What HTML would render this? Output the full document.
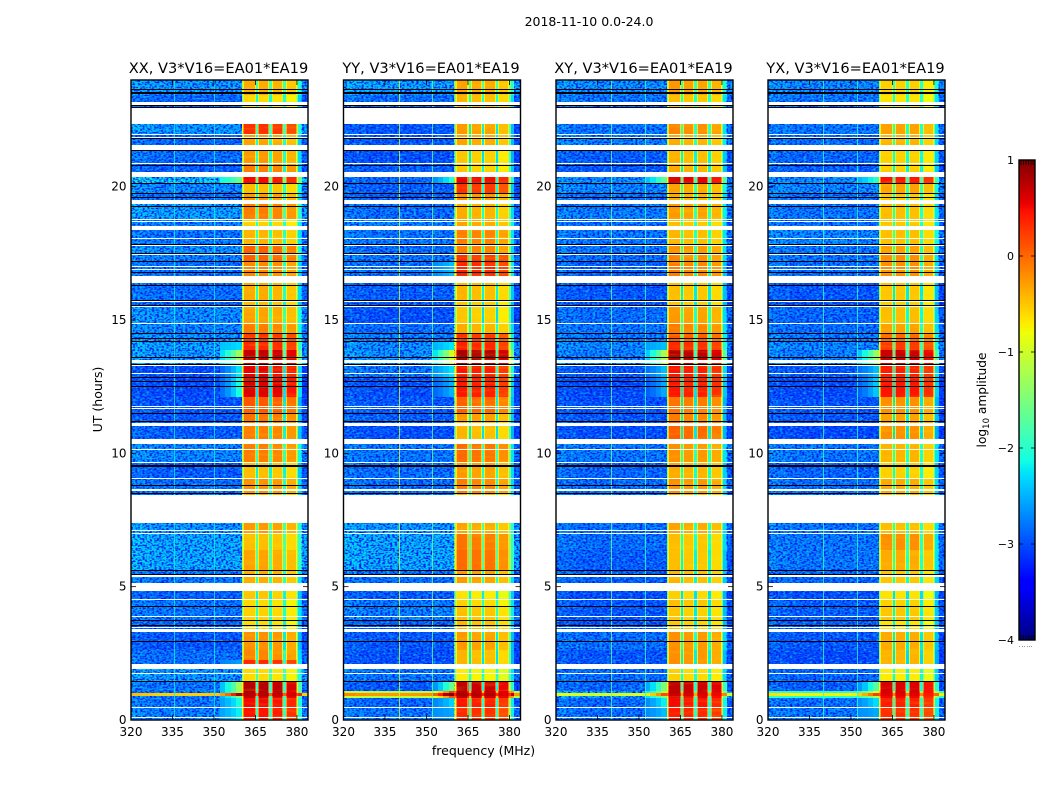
<!DOCTYPE html>
<html lang="en">
<head>
<meta charset="utf-8">
<title>2018-11-10 0.0-24.0</title>
<style>
html,body{margin:0;padding:0;background:#fff;}
svg{display:block;}
text{font-family:"DejaVu Sans","Liberation Sans",sans-serif;fill:#000;}
</style>
</head>
<body>
<svg id="figure" xmlns="http://www.w3.org/2000/svg" width="1050" height="800" viewBox="0 0 1050 800">
  <defs>
    <filter id="speckleDark" x="0" y="0" width="100%" height="100%" color-interpolation-filters="sRGB">
      <feTurbulence type="fractalNoise" baseFrequency="0.42 0.62" numOctaves="1" seed="4"/>
      <feColorMatrix type="matrix" values="0 0 0 0 0  0 0 0 0 0.1  0 0 0 0 0.95  5 0 0 0 -2.2"/>
    </filter>
    <filter id="speckleLight" x="0" y="0" width="100%" height="100%" color-interpolation-filters="sRGB">
      <feTurbulence type="fractalNoise" baseFrequency="0.3 0.55" numOctaves="1" seed="11"/>
      <feColorMatrix type="matrix" values="0 0 0 0 0.05  0 0 0 0 0.85  0 0 0 0 0.95  0 4 0 0 -2"/>
    </filter>
    <filter id="streakGlow" x="0" y="0" width="100%" height="100%" color-interpolation-filters="sRGB">
      <feTurbulence type="fractalNoise" baseFrequency="0.03 0.3" numOctaves="2" seed="7"/>
      <feColorMatrix type="matrix" values="0 0 0 0 1  0 0 0 0 0.95  0 0 0 0 0.1  3.5 0 0 0 -1.75"/>
    </filter>
  </defs>
  <text x="589" y="26" font-size="12.5" text-anchor="middle">2018-11-10 0.0-24.0</text>
  <text transform="translate(102,399.5) rotate(-90)" font-size="12.5" text-anchor="middle">UT (hours)</text>
  <text x="483.5" y="755" font-size="12.5" text-anchor="middle">frequency (MHz)</text>
  <text transform="translate(986,400) rotate(-90)" font-size="12.2" text-anchor="middle">log<tspan font-size="8.5" dy="3">10</tspan><tspan dy="-3"> amplitude</tspan></text>
</svg>
<script>
// ---- Chart data ----
const panelNames = ["XX", "YY", "XY", "YX"];
const baselineLabel = "V3*V16=EA01*EA19";
const xTicks = [320, 335, 350, 365, 380];
const yTicks = [0, 5, 10, 15, 20];
const colorbarTicks = [1, 0, -1, -2, -3, -4];

// Time bands: edges in UT hours, from top of the plot to the bottom.
const bandEdges = [24,23.44,22.35,21.98,21.34,20.89,20.36,20.14,19.76,19.35,18.79,18.38,17.81,17.48,17.21,16.39,15.75,15.53,14.89,14.51,14.18,13.88,13.31,12.83,12.11,11.51,11.18,10.35,9.68,9.08,8.48,7.39,7.01,6.38,5.59,4.84,4.54,4.24,3.75,3.3,2.63,2.25,1.91,1.46,1.09,1.01,0.9,0.83,0.49,0];

// Frequency channels: edges in MHz.
const freqEdges = [320,324,328,332,336,340,344,348,352,354,356,358,360,360.6,361,364.8,365.2,366,366.4,369.6,370,370.9,371.3,374.7,375.1,375.9,376.3,379.5,379.9,380.4,381.8,384];
const chanWeight = [0,0,0,0,0,0,0,0,0,0,0,0,0.55,0.8,1,0.8,0.05,0.8,1,0.8,0.05,0.8,1,0.8,0.05,0.8,1,0.8,0.45,0,0];
const chanOffset = [-0.05,-0.1,-0.15,-0.15,-0.15,-0.15,-0.15,-0.15,-0.15,-0.15,-0.15,-0.15,0,0,0,0,0.4,0,0,0,0.4,0,0,0,0.4,0,0,0,0,0.3,-0.15];
const chanRamp = [0,0,0,0,0,0,0,0.1,0.6,1.2,2,3,0,0,0,0,0,0,0,0,0,0,0,0,0,0,0,0,0,1,0];
const chanBlock = [-1,-1,-1,-1,-1,-1,-1,-1,-1,-1,-1,-1,-1,0,0,0,-1,1,1,1,-1,2,2,2,-1,3,3,3,-1,-1,-1];

// log10 amplitude in each time band: background level and 360-380 MHz level.
const bgXX = [-2.35,-2.65,-2.35,-2.65,-2.6,-2.7,-2.1,-2.45,-2.6,-2.3,-2.5,-2.55,-2.4,-2.5,-2.6,-2.6,-2.7,-2.4,-2.45,-2.4,-2.3,-2.35,-2.85,-2.85,-2.8,-2.75,-2.7,-2.45,-2.7,-2.6,-2.6,-2.35,-2.25,-2.25,-2.55,-2.7,-2.55,-2.55,-2.7,-2.75,-2.6,-2.6,-2.35,-2.55,-2.55,-0.4,-2.55,-2.55,-2.5];
const pkXX = [-0.4,-0.65,0.25,-0.35,-0.3,-0.15,0.45,-0.5,-0.3,-0.15,-0.6,-0.45,0,0,-0.2,-0.4,-0.5,-0.35,-0.15,0.25,0.3,0.65,0.5,0.55,0.05,-0.1,-0.15,-0.15,-0.5,-0.25,-0.4,-0.3,-0.5,-0.35,-0.4,-0.55,-0.65,-0.6,-0.65,-0.25,-0.2,0.3,-0.65,0.72,0.72,0.72,0.65,0.45,0.4];
const bgYY = [-2.3,-2.6,-2.75,-2.75,-2.8,-2.7,-2.65,-2.7,-2.7,-2.6,-2.5,-2.55,-2.6,-2.55,-2.6,-2.7,-2.75,-2.8,-2.6,-2.5,-2.4,-2.4,-2.55,-2.8,-2.75,-2.7,-2.8,-2.55,-2.6,-2.6,-2.6,-2.35,-2.25,-2.25,-2.6,-2.7,-2.55,-2.5,-2.7,-2.75,-2.8,-2.8,-2.55,-2.75,-1,-0.1,-1,-2.65,-2.55];
const pkYY = [-0.35,-0.45,-0.3,-0.35,-0.55,-0.55,0.5,0.25,-0.25,-0.4,-0.35,-0.15,-0.15,0.25,0.35,-0.45,-0.55,-0.55,-0.4,0.25,0.35,0.78,0.4,0.4,0,-0.3,-0.45,-0.05,-0.3,-0.15,-0.4,-0.35,-0.1,-0.05,-0.3,-0.7,-0.6,-0.5,-0.45,-0.3,-0.45,-0.45,-0.75,0.68,0.72,0.78,0.68,0.4,0.3];
const bgXY = [-2.4,-2.55,-2.55,-2.5,-2.7,-2.75,-2.45,-2.45,-2.6,-2.5,-2.6,-2.55,-2.55,-2.6,-2.7,-2.75,-2.75,-2.6,-2.55,-2.5,-2.45,-2.5,-2.75,-2.85,-2.8,-2.75,-2.8,-2.55,-2.65,-2.6,-2.6,-2.6,-2.6,-2.7,-2.7,-2.8,-2.75,-2.75,-2.75,-2.6,-2.75,-2.75,-2.6,-2.65,-2.3,-0.8,-2.3,-2.65,-2.6];
const pkXY = [-0.3,-0.5,-0.2,-0.4,-0.45,-0.4,0.55,-0.35,-0.4,-0.3,-0.5,-0.45,-0.25,-0.2,-0.15,-0.5,-0.55,-0.3,-0.15,0.05,0.3,0.72,0.4,0.4,-0.1,-0.15,0,-0.25,-0.4,-0.25,-0.4,-0.35,-0.5,-0.5,-0.45,-0.6,-0.5,-0.55,-0.55,-0.25,-0.25,-0.25,-0.6,0.68,0.68,0.62,0.58,0.45,0.35];
const bgYX = [-2.45,-2.55,-2.55,-2.6,-2.65,-2.7,-2.45,-2.45,-2.6,-2.55,-2.6,-2.45,-2.55,-2.55,-2.6,-2.75,-2.8,-2.65,-2.6,-2.5,-2.45,-2.5,-2.75,-2.85,-2.8,-2.75,-2.85,-2.55,-2.65,-2.6,-2.6,-2.55,-2.55,-2.55,-2.65,-2.8,-2.7,-2.7,-2.7,-2.75,-2.85,-2.85,-2.65,-2.7,-1.9,-0.6,-1.9,-2.6,-2.55];
const pkYX = [-0.55,-0.65,-0.3,-0.4,-0.55,-0.55,0.45,-0.3,-0.5,-0.45,-0.5,-0.45,-0.3,-0.2,-0.2,-0.5,-0.55,-0.45,-0.3,0,0.25,0.68,0.4,0.45,-0.2,-0.3,-0.2,-0.4,-0.55,-0.35,-0.4,-0.45,-0.2,-0.35,-0.5,-0.65,-0.55,-0.5,-0.65,-0.35,-0.4,-0.4,-0.7,0.62,0.62,0.58,0.52,0.4,0.3];

// Per-panel level change of the four bright frequency blocks.
const gainXX = [0.05,0.05,0,-0.1];
const gainYY = [0.05,0,0,-0.15];
const gainXY = [0.05,0,0,-0.1];
const gainYX = [0,0,0,-0.15];

// Narrow persistent interference channels (MHz) and their levels.
const rfiFreqXX = [335.5, 350];
const rfiLevelXX = [-2.2, -2.2];
const rfiFreqYY = [340, 352];
const rfiLevelYY = [-1.05, -1.7];
const rfiFreqXY = [340, 352];
const rfiLevelXY = [-1.7, -2];
const rfiFreqYX = [340, 352];
const rfiLevelYX = [-2, -2.1];

// Flagged (blank) time ranges, UT hours.
const flagStart = [23.175,22.95,21.975,21.86,21.56,20.89,20.55,19.5,18.79,18.71,18.525,18.075,17.81,17.475,17.025,16.91,16.65,15.71,15.525,14.89,13.5,13.35,13.01,11.775,11.7,11.14,10.54,10.16,9.675,9.075,8.66,8.44,7.125,7.01,5.44,5.14,4.54,3.9,3.49,3.41,2.1,1.76,0.49,0.11];
const flagEnd = [23.08,22.35,21.94,21.825,21.375,20.85,20.36,19.35,18.75,18.675,18.375,18.04,17.775,17.44,16.99,16.875,16.39,15.675,15.49,14.85,13.39,13.275,12.975,11.74,11.66,11.025,10.35,10.125,9.64,9.04,8.59,7.39,7.09,6.975,5.36,4.84,4.5,3.86,3.45,3.3,1.91,1.725,0.45,0.075];

// Completely dropped integrations, UT hours.
const blackLines = [23.66,23.55,23.5,23.03,22.98,21.79,21.34,20.81,20.12,19.76,19.61,19.24,17.85,17.48,17.21,16.8,16.28,15.73,15.53,14.51,14.29,14.18,13.58,13.35,12.83,12.71,12.51,11.51,11.18,9.56,9.51,8.78,8.48,5.59,5.475,4.24,3.75,3.56,2.96,1.44];

const panelBg = [bgXX, bgYY, bgXY, bgYX];
const panelPk = [pkXX, pkYY, pkXY, pkYX];
const panelGain = [gainXX, gainYY, gainXY, gainYX];
const panelRfiFreq = [rfiFreqXX, rfiFreqYY, rfiFreqXY, rfiFreqYX];
const panelRfiLevel = [rfiLevelXX, rfiLevelYY, rfiLevelXY, rfiLevelYX];

// ---- Layout and scales ----
const NS = "http://www.w3.org/2000/svg";
const fig = document.getElementById("figure");
const panelLeft = [131, 343.5, 556, 768];
const plotWidth = 177, plotTop = 80, plotBottom = 720;
const utMax = 24, fMin = 320, fMax = 384, cMin = -4, cMax = 1;
const cbLeft = 1019, cbRight = 1035, cbTop = 160, cbBottom = 640;
const rampThreshold = 0.25;

function yScale(ut) { return plotBottom - ut * (plotBottom - plotTop) / utMax; }
function xScale(f, left) { return left + (f - fMin) * plotWidth / (fMax - fMin); }
function cScale(v) { return cbBottom - (v - cMin) * (cbBottom - cbTop) / (cMax - cMin); }

function lerpStops(t, xs, ys) {
  if (t <= xs[0]) return ys[0];
  for (let i = 1; i < xs.length; i++) {
    if (t <= xs[i]) return ys[i-1] + (ys[i] - ys[i-1]) * (t - xs[i-1]) / (xs[i] - xs[i-1]);
  }
  return ys[ys.length - 1];
}
function jet(v) {
  const t = Math.max(0, Math.min(1, (v - cMin) / (cMax - cMin)));
  const r = lerpStops(t, [0,0.35,0.66,0.89,1], [0,0,1,1,0.5]);
  const g = lerpStops(t, [0,0.125,0.375,0.64,0.91,1], [0,0,1,1,0,0]);
  const b = lerpStops(t, [0,0.11,0.34,0.65,1], [0.5,1,1,0,0]);
  return "rgb(" + Math.round(r*255) + "," + Math.round(g*255) + "," + Math.round(b*255) + ")";
}
function make(parent, tag, attrs) {
  const el = document.createElementNS(NS, tag);
  for (const k in attrs) el.setAttribute(k, attrs[k]);
  parent.appendChild(el);
  return el;
}
function drawBand(parent, p, b, left, rampOnly) {
  const y0 = Math.round(yScale(bandEdges[b]));
  const y1 = Math.round(yScale(bandEdges[b + 1]));
  for (let c = 0; c < freqEdges.length - 1; c++) {
    if (rampOnly && chanRamp[c] < 0.5) continue;
    const x0 = Math.round(xScale(freqEdges[c], left));
    const x1 = Math.round(xScale(freqEdges[c + 1], left));
    const w = chanWeight[c];
    const pk = panelPk[p][b];
    const gain = chanBlock[c] >= 0 ? panelGain[p][chanBlock[c]] : 0;
    const v = panelBg[p][b] * (1 - w) + (pk + gain) * w + chanOffset[c] + chanRamp[c] * Math.max(0, pk - rampThreshold);
    const cell = make(parent, "rect", {x: x0, y: y0, width: x1 - x0, height: y1 - y0, fill: jet(v)});
    
    
  }
}

// ---- Panels ----
panelNames.forEach(function (pol, p) {
  const left = panelLeft[p];
  const right = left + plotWidth;
  const group = make(fig, "g", {});
  
  

  const title = make(group, "text", {x: left + plotWidth / 2 - 1, y: 73, "font-size": 14.6, "text-anchor": "middle"});
  title.textContent = pol + ", " + baselineLabel;
  
  

  const cells = make(group, "g", {"shape-rendering": "crispEdges"});
  
  

  for (let b = 0; b < bandEdges.length - 1; b++) {
    drawBand(cells, p, b, left, false);
  }

  // Fine noise texture over the band-averaged levels
  const bgEnd = xScale(360, left);
  const texDark = make(group, "rect", {x: left, y: plotTop, width: bgEnd - left, height: plotBottom - plotTop, filter: "url(#speckleDark)"});
  
  
  const texLight = make(group, "rect", {x: left, y: plotTop, width: bgEnd - left, height: plotBottom - plotTop, filter: "url(#speckleLight)", opacity: 0.6});
  
  
  const tailStart = xScale(381.8, left);
  const texTail = make(group, "rect", {x: tailStart, y: plotTop, width: right - tailStart, height: plotBottom - plotTop, filter: "url(#speckleDark)"});
  
  
  const blockStart = xScale(360.6, left);
  const blockEnd = xScale(380.4, left);
  const texBlock = make(group, "rect", {x: blockStart, y: plotTop, width: blockEnd - blockStart, height: plotBottom - plotTop, filter: "url(#streakGlow)", opacity: 0.15});
  
  

  // Broadband streaks and the smooth shoulder of bright bands sit above the noise texture
  const streaks = make(group, "g", {"shape-rendering": "crispEdges"});
  
  
  for (let b = 0; b < bandEdges.length - 1; b++) {
    if (panelBg[p][b] > -2) drawBand(streaks, p, b, left, false);
    else if (panelPk[p][b] > rampThreshold) drawBand(streaks, p, b, left, true);
  }

  panelRfiFreq[p].forEach(function (f, i) {
    const rfi = make(group, "rect", {x: Math.round(xScale(f, left)), y: plotTop, width: 1, height: plotBottom - plotTop, fill: jet(panelRfiLevel[p][i]), "shape-rendering": "crispEdges", opacity: 0.8});
    
    
  });

  flagStart.forEach(function (s, i) {
    const y0 = Math.round(yScale(s));
    const y1 = Math.round(yScale(flagEnd[i]));
    const gap = make(group, "rect", {x: left, y: y0, width: plotWidth, height: Math.max(1, y1 - y0), fill: "#fff", "shape-rendering": "crispEdges"});
    
    
  });

  blackLines.forEach(function (ut) {
    const yy = Math.floor(yScale(ut)) + 0.5;
    const ln = make(group, "line", {x1: left, x2: right, y1: yy, y2: yy, stroke: "#000", "stroke-width": 1, "shape-rendering": "crispEdges"});
    
    
  });

  const frame = make(group, "rect", {x: left, y: plotTop, width: plotWidth, height: plotBottom - plotTop, fill: "none", stroke: "#000", "stroke-width": 1.4});
  
  

  xTicks.forEach(function (f) {
    const tx = xScale(f, left);
    const t1 = make(group, "line", {x1: tx, x2: tx, y1: plotBottom, y2: plotBottom - 5, stroke: "#000", "stroke-width": 0.8});
    
    
    const t2 = make(group, "line", {x1: tx, x2: tx, y1: plotTop, y2: plotTop + 5, stroke: "#000", "stroke-width": 0.8});
    
    
    const lab = make(group, "text", {x: tx, y: 736, "font-size": 12, "text-anchor": "middle"});
    lab.textContent = f;
    
    
  });
  yTicks.forEach(function (ut) {
    const ty = yScale(ut);
    const t1 = make(group, "line", {x1: left, x2: left + 5, y1: ty, y2: ty, stroke: "#000", "stroke-width": 0.8});
    
    
    const t2 = make(group, "line", {x1: right, x2: right - 5, y1: ty, y2: ty, stroke: "#000", "stroke-width": 0.8});
    
    
    const lab = make(group, "text", {x: left - 4.5, y: ty + 4, "font-size": 12, "text-anchor": "end"});
    lab.textContent = ut;
    
    
  });
});

// ---- Colorbar ----
const cbGroup = make(fig, "g", {});


for (let py = cbTop; py < cbBottom; py += 2) {
  const level = cMax - (py + 1 - cbTop) * (cMax - cMin) / (cbBottom - cbTop);
  const strip = make(cbGroup, "rect", {x: cbLeft, y: py, width: cbRight - cbLeft, height: 2, fill: jet(level), "shape-rendering": "crispEdges"});
  
  
}
const cbFrame = make(cbGroup, "rect", {x: cbLeft, y: cbTop, width: cbRight - cbLeft, height: cbBottom - cbTop, fill: "none", stroke: "#000", "stroke-width": 1.4});


colorbarTicks.forEach(function (v) {
  const ty = cScale(v);
  const t1 = make(cbGroup, "line", {x1: cbLeft, x2: cbLeft + 4, y1: ty, y2: ty, stroke: "#000", "stroke-width": 0.8});
  
  
  const t2 = make(cbGroup, "line", {x1: cbRight, x2: cbRight - 4, y1: ty, y2: ty, stroke: "#000", "stroke-width": 0.8});
  
  
  const lab = make(cbGroup, "text", {x: 1014, y: ty + 4, "font-size": 11, "text-anchor": "end"});
  lab.textContent = v < 0 ? "\u2212" + Math.abs(v) : String(v);
  
  
});
[1021, 1023.5, 1026, 1028.5, 1031, 1033].forEach(function (tx) {
  const top = make(cbGroup, "line", {x1: tx, x2: tx, y1: cbTop, y2: cbTop + 5, stroke: "#000", "stroke-width": 0.7});
  
  
  const bottom = make(cbGroup, "line", {x1: tx, x2: tx, y1: cbBottom, y2: cbBottom - 5, stroke: "#000", "stroke-width": 0.7});
  
  
  const dot = make(cbGroup, "rect", {x: Math.round(tx) - 2, y: 646, width: 1, height: 1, fill: "#999"});
  
  
});
</script>
</body>
</html>
